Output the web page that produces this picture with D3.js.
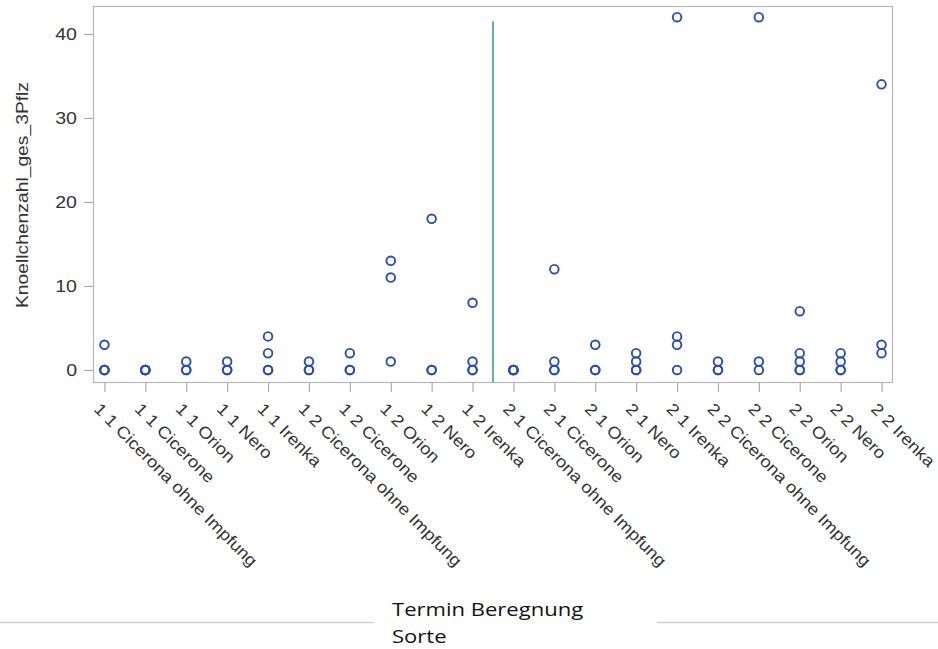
<!DOCTYPE html>
<html>
<head>
<meta charset="utf-8">
<script src="https://cdn.jsdelivr.net/npm/d3@7"></script>
<style>
  html, body { margin: 0; padding: 0; background: #fff; }
  svg { display: block; }
</style>
</head>
<body>
<svg id="chart" width="938" height="649"></svg>
<script>
// Termin / Beregnung / Sorte combinations along the x axis
const categories = [
  "1 1 Cicerona ohne Impfung", "1 1 Cicerone", "1 1 Orion", "1 1 Nero", "1 1 Irenka",
  "1 2 Cicerona ohne Impfung", "1 2 Cicerone", "1 2 Orion", "1 2 Nero", "1 2 Irenka",
  "2 1 Cicerona ohne Impfung", "2 1 Cicerone", "2 1 Orion", "2 1 Nero", "2 1 Irenka",
  "2 2 Cicerona ohne Impfung", "2 2 Cicerone", "2 2 Orion", "2 2 Nero", "2 2 Irenka"
];

// Knoellchenzahl_ges_3Pflz observations per combination
const knoellchen = [
  [3, 0, 0, 0], [0, 0, 0, 0], [1, 0, 0], [1, 0, 0], [4, 2, 0, 0],
  [1, 0, 0], [2, 0, 0], [13, 11, 1], [18, 0, 0], [8, 1, 0, 0],
  [0, 0, 0, 0], [12, 1, 0, 0], [3, 0, 0], [2, 1, 0, 0], [42, 4, 3, 0],
  [1, 0, 0], [42, 1, 0], [7, 2, 1, 0, 0], [2, 1, 0, 0], [34, 3, 2]
];

const yTicks = [0, 10, 20, 30, 40];
const yTitle = "Knoellchenzahl_ges_3Pflz";
const legendLines = ["Termin Beregnung", "Sorte"];
// upper end of the separator between Termin 1 and Termin 2
const separatorTop = 41.5;

const svg = d3.select("#chart");
const frame = { left: 93, right: 893, top: 6, bottom: 383 };

const x = d3.scalePoint()
  .domain(categories)
  .range([frame.left, frame.right])
  .padding(0.28);

const y = d3.scaleLinear()
  .domain([-1.55, 43.33])
  .range([frame.bottom, frame.top]);

const points = [];
categories.forEach((c, i) => knoellchen[i].forEach(v => points.push({ c, v })));

// plot frame
svg.append("rect")
  .attr("x", frame.left + 0.5).attr("y", frame.top + 0.5)
  .attr("width", frame.right - frame.left - 1)
  .attr("height", frame.bottom - frame.top - 1)
  .attr("fill", "none").attr("stroke", "#b4b6b9").attr("stroke-width", 1.2);

// y axis
const yAxis = svg.append("g")
  .attr("transform", `translate(${frame.left},0)`)
  .call(d3.axisLeft(y).tickValues(yTicks).tickSize(9).tickPadding(7));
yAxis.select(".domain").remove();
yAxis.selectAll(".tick line").attr("stroke", "#a9abae").attr("stroke-width", 1.2);
yAxis.selectAll(".tick text")
  .attr("font-family", "'Liberation Sans', Arial, sans-serif")
  .attr("font-size", 16.3)
  .attr("fill", "#333")
  .attr("dy", "0.36em")
  .each(function () {
    const w = this.getComputedTextLength();
    d3.select(this).attr("textLength", w * 1.2).attr("lengthAdjust", "spacingAndGlyphs");
  });

// x axis
const xAxis = svg.append("g")
  .attr("transform", `translate(0,${frame.bottom})`)
  .call(d3.axisBottom(x).tickSize(9).tickFormat(""));
xAxis.select(".domain").remove();
xAxis.selectAll(".tick line").attr("stroke", "#a9abae").attr("stroke-width", 1.2);
xAxis.selectAll(".tick text").remove();

// rotated category labels
svg.append("g").selectAll("text")
  .data(categories)
  .join("text")
  .attr("transform", d => `translate(${x(d) - 11.5},${frame.bottom + 27}) rotate(45)`)
  .attr("font-family", "'Liberation Sans', Arial, sans-serif")
  .attr("font-size", 16.5)
  .attr("fill", "#333")
  .text(d => d)
  .each(function () {
    const w = this.getComputedTextLength();
    d3.select(this).attr("textLength", w * 1.12).attr("lengthAdjust", "spacingAndGlyphs");
  });

// y axis title
svg.append("text")
  .attr("transform", `translate(28,${(82 + 308) / 2}) rotate(-90)`)
  .attr("text-anchor", "middle")
  .attr("font-family", "'Liberation Sans', Arial, sans-serif")
  .attr("font-size", 17)
  .attr("fill", "#333")
  .text(yTitle)
  .each(function () {
    d3.select(this).attr("textLength", 226).attr("lengthAdjust", "spacingAndGlyphs");
  });

// separator between the two Termine
const sepX = (x(categories[9]) + x(categories[10])) / 2;
svg.append("line")
  .attr("x1", sepX).attr("x2", sepX)
  .attr("y1", y(separatorTop)).attr("y2", frame.bottom - 1)
  .attr("stroke", "#5cb2b0").attr("stroke-width", 2);

// observations
svg.append("g").selectAll("circle")
  .data(points)
  .join("circle")
  .attr("cx", d => x(d.c))
  .attr("cy", d => y(d.v))
  .attr("r", 4.3)
  .attr("fill", "none")
  .attr("stroke", "#2a4db2")
  .attr("stroke-width", 1.9);

// legend of the x axis grouping
svg.append("line")
  .attr("x1", 0).attr("x2", 374).attr("y1", 622.5).attr("y2", 622.5)
  .attr("stroke", "#cfcfcf").attr("stroke-width", 1.3);
svg.append("line")
  .attr("x1", 657).attr("x2", 938).attr("y1", 622.5).attr("y2", 622.5)
  .attr("stroke", "#cfcfcf").attr("stroke-width", 1.3);

svg.append("g").selectAll("text")
  .data(legendLines)
  .join("text")
  .attr("x", 392)
  .attr("y", (d, i) => 616 + i * 27)
  .attr("font-family", "'Open Sans', 'Noto Sans', sans-serif")
  .attr("font-size", 19)
  .attr("fill", "#111")
  .text(d => d)
  .each(function () {
    const w = this.getComputedTextLength();
    d3.select(this).attr("textLength", w * 1.16).attr("lengthAdjust", "spacingAndGlyphs");
  });
</script>
</body>
</html>
